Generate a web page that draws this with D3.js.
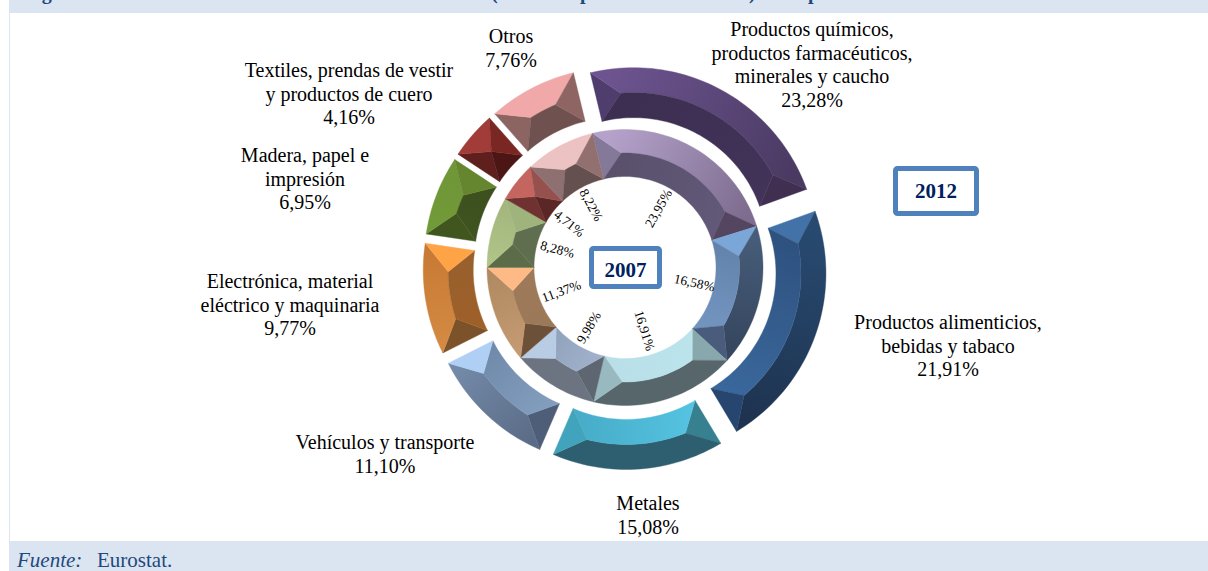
<!DOCTYPE html>
<html><head><meta charset="utf-8">
<script src="https://d3js.org/d3.v7.min.js"></script>
<style>html,body{margin:0;padding:0;background:#fff}svg{display:block}text{font-family:"Liberation Serif",serif}</style>
</head><body><svg id="c" width="1208" height="571"></svg>
<script>
const categories=["Productos químicos, productos farmacéuticos, minerales y caucho","Productos alimenticios, bebidas y tabaco","Metales","Vehículos y transporte","Electrónica, material eléctrico y maquinaria","Madera, papel e impresión","Textiles, prendas de vestir y productos de cuero","Otros"];
const values2012=[23.28,21.91,15.08,11.10,9.77,6.95,4.16,7.76];
const values2007=[23.95,16.58,16.91,9.98,11.37,8.28,4.71,8.22];
const outerLabelLines=[["Productos químicos,","productos farmacéuticos,","minerales y caucho"],["Productos alimenticios,","bebidas y tabaco"],["Metales"],["Vehículos y transporte"],["Electrónica, material","eléctrico y maquinaria"],["Madera, papel e","impresión"],["Textiles, prendas de vestir","y productos de cuero"],["Otros"]];
// facet colours: start cap, outer band [from,to], inner band [from,to], end cap
const outerColors=[
 ["#4f3d6e",["#6d5490","#4a3a62"],["#3c2e50","#42335a"],"#402f50"],
 ["#4372a8",["#284a70","#1e3350"],["#2d4f7c","#3b6a9f"],"#27466f"],
 ["#37808f",["#2d5f70","#2d5f70"],["#56c6e4","#45a9c5"],"#41a3bc"],
 ["#4e5e78",["#5a6b85","#738aa9"],["#85a1c0","#6e87a8"],"#b0cff5"],
 ["#7c522a",["#d48a42","#c77a35"],["#a06028","#96602e"],"#ffa347"],
 ["#41561f",["#719a38","#6f9637"],["#3f5420","#3c4f1d"],"#65852f"],
 ["#5e1f1d",["#a13c39","#a13c39"],["#4c1614","#4c1614"],"#7a2623"],
 ["#8c6462",["#f0a8a8","#f0a8a8"],["#6f5150","#6f5150"],"#8e6562"]];
const innerColors=[
 ["#85799a",["#b4a2cb","#7e6d8f"],["#58506a","#63597a"],"#544660"],
 ["#7ba6d8",["#465c78","#36465f"],["#6080a8","#7598c3"],"#4a5c7c"],
 ["#89a8ae",["#56666a","#56666a"],["#bce4ec","#b8dfe8"],"#98b9bf"],
 ["#5e6672",["#6b7480","#6b7480"],["#a4b4d0","#8ea0b8"],"#b8cce4"],
 ["#6d5038",["#c49a72","#b08a62"],["#9a7858","#a07a5a"],"#fdba86"],
 ["#5c6b48",["#b0c488","#a3b67e"],["#5f6e4e","#5f6e4e"],"#9fb47c"],
 ["#6f3231",["#c46560","#c46560"],["#5a2626","#5a2626"],"#96504e"],
 ["#8e7070",["#ecc2c2","#ecc2c2"],["#655050","#655050"],"#927070"]];
const fmt=v=>v.toFixed(2).replace(".",",")+"%";
const svg=d3.select("#c"), defs=svg.append("defs");
const cx=625, cy=267.5, startDeg=-13.6, toRad=Math.PI/180;
const pie=d3.pie().sort(null).startAngle(startDeg*toRad).endAngle((startDeg+360)*toRad);
// page frame
svg.append("rect").attr("x",9).attr("y",0).attr("width",1199).attr("height",13).attr("fill","#dbe5f1");
svg.append("rect").attr("x",9).attr("y",13).attr("width",1).attr("height",528).attr("fill","#dbe5f1");
svg.append("rect").attr("x",9).attr("y",541).attr("width",1199).attr("height",30).attr("fill","#dbe5f1");
// title fragments: the reference is cropped so only descenders show
const ttl=svg.append("text").attr("y",-1).attr("font-size",20).attr("font-weight","bold").attr("fill","#1f497d");
[["Figura",24],["(",491],["p",580],[")",749],["p",808]].forEach(([s,x])=>ttl.append("tspan").attr("x",x).text(s));
let gid=0;
function grad(p0,p1,cols){const id="g"+(gid++);
 const g=defs.append("linearGradient").attr("id",id).attr("gradientUnits","userSpaceOnUse")
  .attr("x1",p0[0]).attr("y1",p0[1]).attr("x2",p1[0]).attr("y2",p1[1]);
 g.append("stop").attr("offset",0).attr("stop-color",cols[0]);
 g.append("stop").attr("offset",1).attr("stop-color",cols[1]);
 return `url(#${id})`;}
const rad=d3.lineRadial().angle(d=>d[0]).radius(d=>d[1]);
const polar=(a,r)=>[r*Math.sin(a),-r*Math.cos(a)];
function arcPts(a0,a1,r){const n=Math.max(2,Math.ceil(Math.abs(a1-a0)/(1.5*toRad)));
 return d3.range(n+1).map(i=>[a0+(a1-a0)*i/n,r]);}
function slice(g,d,r0,r1,cols){
 const rm=(r0+r1)/2,w=(r1-r0)/2,span=d.endAngle-d.startAngle;
 const off=Math.min(w/rm,span/2);
 const a0=d.startAngle,a1=d.endAngle,b0=a0+off,b1=a1-off;
 const faces=[
  {pts:[[a0,r0],[b0,rm],[a0,r1]],fill:cols[0]},
  {pts:[...arcPts(a0,a1,r1),...arcPts(b1,b0,rm)],fill:grad(polar(a0,rm),polar(a1,rm),cols[1])},
  {pts:[...arcPts(a0,a1,r0),...arcPts(b1,b0,rm)],fill:grad(polar(a0,rm),polar(a1,rm),cols[2])},
  {pts:[[a1,r0],[b1,rm],[a1,r1]],fill:cols[3]}];
 g.selectAll("path.f").data(faces).join("path").attr("class","f")
  .attr("d",f=>rad(f.pts)+"Z").attr("fill",f=>f.fill).attr("stroke",f=>f.fill).attr("stroke-width",0.4);
}
const root=svg.append("g").attr("transform",`translate(${cx},${cy})`);
const explode=18;
pie(values2012).forEach((d,i)=>{const m=(d.startAngle+d.endAngle)/2,t=polar(m,explode);
 slice(root.append("g").attr("transform",`translate(${t})`),d,134,184,outerColors[i]);});
pie(values2007).forEach((d,i)=>slice(root.append("g"),d,91,138,innerColors[i]));
// inner value labels: centred along the bisector, rotated
const innerLabelRadius=[68,71,66,70,68,70,71,71];
pie(values2007).forEach((d,i)=>{const m=(d.startAngle+d.endAngle)/2,p=polar(m,innerLabelRadius[i]);
 let deg=m/toRad-90; if(deg>90)deg-=180;
 root.append("text").attr("transform",`translate(${p}) rotate(${deg})`).attr("text-anchor","middle").attr("dy","0.33em").attr("font-size",13.4).attr("fill","#000").text(fmt(values2007[i]));});
// outer labels
const labelAnchor=[[812,36],[948,329],[648,510],[385,449],[290,288],[305,162],[349,77],[511,43]];
outerLabelLines.forEach((lines,i)=>{
 const t=svg.append("text").attr("text-anchor","middle").attr("font-size",20).attr("fill","#000");
 [...lines,fmt(values2012[i])].forEach((s,j)=>t.append("tspan").attr("x",labelAnchor[i][0]).attr("y",labelAnchor[i][1]+j*23.5).text(s));});
// year boxes
function box(x,y,w,h,base,s){svg.append("rect").attr("x",x).attr("y",y).attr("width",w).attr("height",h).attr("rx",2).attr("fill","#fff").attr("stroke","#4f81bd").attr("stroke-width",5);
 svg.append("text").attr("x",x+w/2).attr("y",base).attr("text-anchor","middle").attr("font-size",21).attr("font-weight","bold").attr("fill","#002060").text(s);}
box(895.5,168.5,81,45,198,"2012");
box(591.5,248.5,68,38,276.5,"2007");
const src=svg.append("text").attr("x",17).attr("y",567).attr("font-size",21).attr("fill","#1f497d");
src.append("tspan").attr("font-style","italic").text("Fuente:");
src.append("tspan").attr("x",97).text("Eurostat.");
</script></body></html>
